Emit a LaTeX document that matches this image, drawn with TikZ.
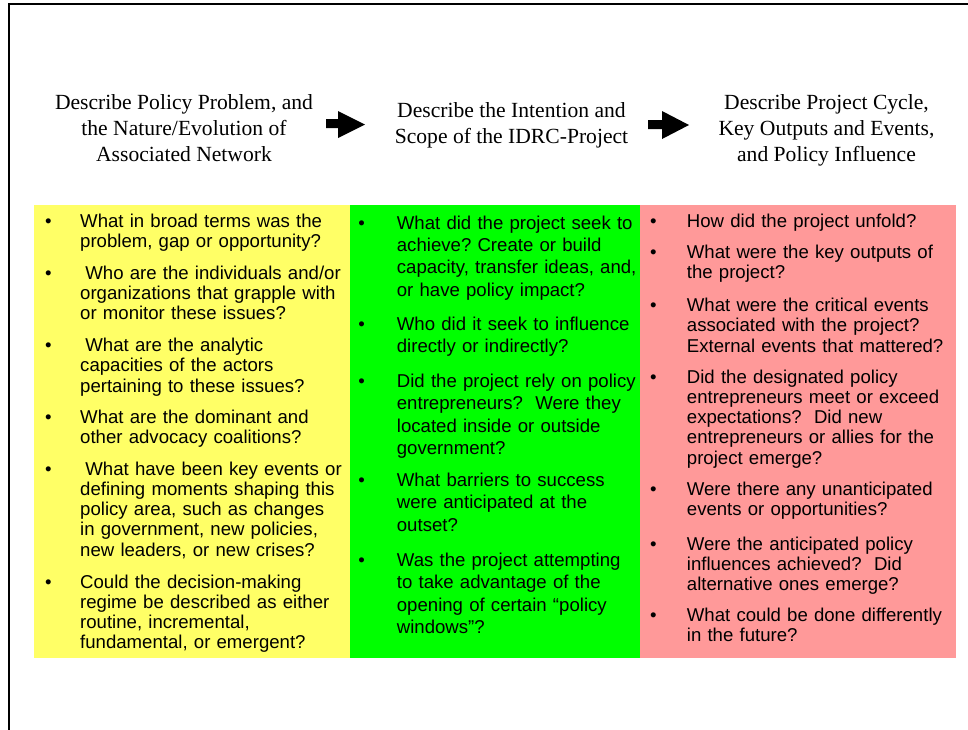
\documentclass[tikz,border=0pt]{standalone}
\usepackage{fontspec}
\setmainfont{Liberation Serif}
\newfontfamily\arialf{Liberation Sans}
\definecolor{colyellow}{RGB}{255,255,102}
\definecolor{colgreen}{RGB}{0,255,0}
\definecolor{colpink}{RGB}{255,153,153}
\frenchspacing
\tikzset{
  headtext/.style={align=center, font=\fontsize{21.6pt}{26pt}\selectfont, inner sep=0pt, anchor=base},
  itemtext/.style={anchor=base west, inner sep=0pt, text width=300pt, align=left, font=\arialf\frenchspacing\fontsize{18.6pt}{20.3pt}\selectfont},
  itemtextg/.style={itemtext, font=\arialf\frenchspacing\fontsize{18.6pt}{22.4pt}\selectfont},
  bulletmark/.style={anchor=base, inner sep=0pt, font=\arialf\fontsize{18.6pt}{20pt}\selectfont},
  frameline/.style={line width=2pt, line cap=rect},
  blockarrow/.style={fill=black},
}
\newcommand{\lsp}{\hspace*{5.2pt}}
\begin{document}
\begin{tikzpicture}[x=1pt,y=-1pt]
\useasboundingbox (0,0) rectangle (968,729);
% frame
\draw[frameline] (9,729) -- (9,4.3) -- (968,4.3);
% colored panels
\fill[colyellow] (34,205) rectangle (350,658);
\fill[colgreen] (350,205) rectangle (640,658);
\fill[colpink] (640,205) rectangle (956,658);
% headers (base anchor = baseline of last line)
\node[headtext] (h1) at (184,161) {Describe Policy Problem, and\\the Nature/Evolution of\\Associated Network};
\node[headtext] (h2) at (511.5,143) {Describe the Intention and\\Scope of the IDRC-Project};
\node[headtext] (h3) at (826.5,161) {Describe Project Cycle,\\Key Outputs and Events,\\and Policy Influence};
% block arrows
\fill[blockarrow] (326,119) -- (338,119) -- (338,111) -- (365,124.5) -- (338,138) -- (338,128) -- (326,128) -- cycle;
\fill[blockarrow] (648,120) -- (662,120) -- (662,111) -- (689,125) -- (662,139) -- (662,129) -- (648,129) -- cycle;
% column 1
\foreach \yy/\nm in {227/b11,279/b12,351.5/b13,423/b14,475/b15,588/b16}{
  \node[bulletmark] (\nm) at (48.3,\yy) {•};
}
\node[itemtext] (a11) at (80,227) {What in broad terms was the\\problem, gap or opportunity?};
\node[itemtext] (a12) at (80,279) {\lsp Who are the individuals and/or\\organizations that grapple with\\or monitor these issues?};
\node[itemtext] (a13) at (80,351.5) {\lsp What are the analytic\\capacities of the actors\\pertaining to these issues?};
\node[itemtext] (a14) at (80,423) {What are the dominant and\\other advocacy coalitions?};
\node[itemtext] (a15) at (80,475) {\lsp What have been key events or\\defining moments shaping this\\policy area, such as changes\\in government, new policies,\\new leaders, or new crises?};
\node[itemtext] (a16) at (80,588) {Could the decision-making\\regime be described as either\\routine, incremental,\\fundamental, or emergent?};
% column 2
\foreach \yy/\nm in {229/b21,330.5/b22,387.5/b23,486.5/b24,566.5/b25}{
  \node[bulletmark] (\nm) at (361.7,\yy) {•};
}
\node[itemtextg] (a21) at (396.7,229) {What did the project seek to\\achieve? Create or build\\capacity, transfer ideas, and,\\or have policy impact?};
\node[itemtextg] (a22) at (396.7,330.5) {Who did it seek to influence\\directly or indirectly?};
\node[itemtextg] (a23) at (396.7,387.5) {Did the project rely on policy\\entrepreneurs?~ Were they\\located inside or outside\\government?};
\node[itemtextg] (a24) at (396.7,486.5) {What barriers to success\\were anticipated at the\\outset?};
\node[itemtextg] (a25) at (396.7,566.5) {Was the project attempting\\to take advantage of the\\opening of certain “policy\\windows”?};
% column 3
\foreach \yy/\nm in {227/b31,258/b32,311.5/b33,383/b34,495/b35,550/b36,621.5/b37}{
  \node[bulletmark] (\nm) at (653.3,\yy) {•};
}
\node[itemtext] (a31) at (686.7,227) {How did the project unfold?};
\node[itemtext] (a32) at (686.7,258) {What were the key outputs of\\the project?};
\node[itemtext] (a33) at (686.7,311.5) {What were the critical events\\associated with the project?\\External events that mattered?};
\node[itemtext] (a34) at (686.7,383) {Did the designated policy\\entrepreneurs meet or exceed\\expectations?~ Did new\\entrepreneurs or allies for the\\project emerge?};
\node[itemtext] (a35) at (686.7,495) {Were there any unanticipated\\events or opportunities?};
\node[itemtext] (a36) at (686.7,550) {Were the anticipated policy\\influences achieved?~ Did\\alternative ones emerge?};
\node[itemtext] (a37) at (686.7,621.5) {What could be done differently\\in the future?};
\end{tikzpicture}
\end{document}
